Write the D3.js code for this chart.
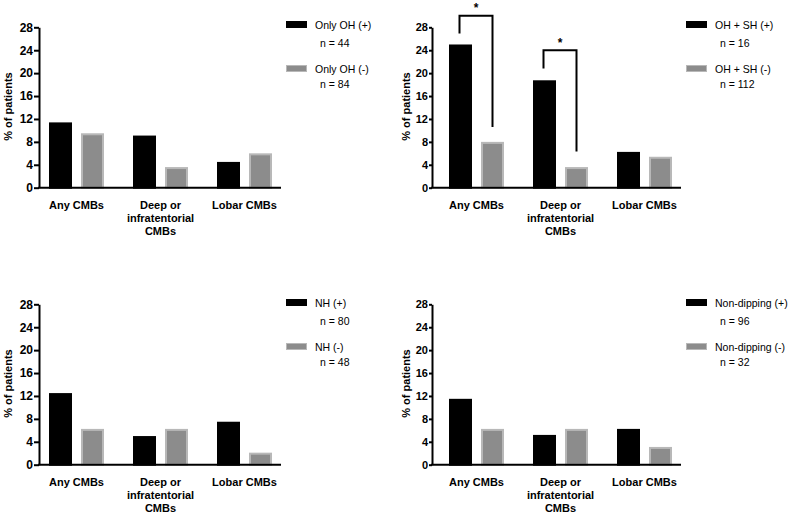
<!DOCTYPE html>
<html>
<head>
<meta charset="utf-8">
<script src="https://cdn.jsdelivr.net/npm/d3@7"></script>
<style>
  body { margin: 0; background: #fff; }
  svg text { font-family: "Liberation Sans", Arial, Helvetica, sans-serif; }
</style>
</head>
<body>
<div id="chart"></div>
<script>
// categories and tick labels
var categories = ["Any CMBs", "Deep or|infratentorial|CMBs", "Lobar CMBs"];
var series = ["pos", "neg"];
var yTicks = [0, 4, 8, 12, 16, 20, 24, 28];

// % of patients, (+) group and (-) group, per panel
var onlyOhPos = [11.4, 9.1, 4.5];
var onlyOhNeg = [9.5, 3.6, 6.0];
var ohShPos = [25.0, 18.75, 6.25];
var ohShNeg = [8.0, 3.6, 5.4];
var nhPos = [12.5, 5.0, 7.5];
var nhNeg = [6.25, 6.25, 2.1];
var ndPos = [11.5, 5.2, 6.25];
var ndNeg = [6.25, 6.25, 3.1];

// legend texts
var legendNames = [["Only OH (+)", "Only OH (-)"], ["OH + SH (+)", "OH + SH (-)"],
                   ["NH (+)", "NH (-)"], ["Non-dipping (+)", "Non-dipping (-)"]];
var legendN = [["n = 44", "n = 84"], ["n = 16", "n = 112"], ["n = 80", "n = 48"], ["n = 96", "n = 32"]];

// significance brackets (panel 2): category, top, left end, right end (in % units)
var brackets = [
  {cat: 0, top: 30.0, left: 26.9, right: 10.6},
  {cat: 1, top: 24.0, left: 20.8, right: 6.3}
];

var panels = [
  {pos: onlyOhPos, neg: onlyOhNeg, axisX: 39, axisEnd: 281, c0: 76.5, top: 27.3, zero: 187.7, legX: 286, legTop: 21, titleX: 8, tick: 5, tickFont: 12, br: []},
  {pos: ohShPos, neg: ohShNeg, axisX: 432, axisEnd: 681, c0: 476.5, top: 27.3, zero: 187.7, legX: 686, legTop: 21, titleX: 405.5, tick: 3, tickFont: 11, br: brackets},
  {pos: nhPos, neg: nhNeg, axisX: 39, axisEnd: 281, c0: 76.5, top: 304.3, zero: 464.7, legX: 286, legTop: 299, titleX: 8, tick: 5, tickFont: 12, br: []},
  {pos: ndPos, neg: ndNeg, axisX: 432, axisEnd: 681, c0: 476.5, top: 304.3, zero: 464.7, legX: 686, legTop: 299, titleX: 405.5, tick: 3, tickFont: 11, br: []}
];

var colors = {pos: "#000000", neg: "#8c8c8c"};
var strokes = {pos: "#000000", neg: "#b8b8b8"};

var svg = d3.select("#chart")
  .append("svg")
    .attr("width", 790)
    .attr("height", 513);

panels.forEach(function(p, pi) {
  var g = svg.append("g");

  var y = d3.scaleLinear()
    .domain([0, 28])
    .range([p.zero, p.top]);

  var x0 = d3.scalePoint()
    .domain(d3.range(categories.length))
    .range([p.c0, p.c0 + 168]);

  var x1 = d3.scaleBand()
    .domain(series)
    .range([-27.5, 27.5])
    .paddingInner(9 / 32);

  // bars
  var rows = [];
  categories.forEach(function(c, i) {
    series.forEach(function(s) {
      rows.push({cat: i, s: s, v: p[s][i]});
    });
  });

  g.append("g")
    .selectAll("rect")
    .data(rows)
    .enter()
    .append("rect")
      .attr("x", function(d) { return x0(d.cat) + x1(d.s) + 1; })
      .attr("y", function(d) { return y(d.v) + 1; })
      .attr("width", x1.bandwidth() - 2)
      .attr("height", function(d) { return Math.max(0, y(0) - y(d.v) - 1); })
      .style("fill", function(d) { return colors[d.s]; })
      .style("stroke", function(d) { return strokes[d.s]; })
      .style("stroke-width", 2);

  // y axis
  var yAxis = g.append("g")
    .attr("transform", "translate(" + p.axisX + ",0)")
    .call(d3.axisLeft(y).tickValues(yTicks).tickSize(p.tick).tickSizeOuter(0).tickPadding(1));
  yAxis.selectAll("path, line").style("stroke", "#000").style("stroke-width", 2);
  yAxis.selectAll("text")
    .style("font-size", p.tickFont + "px")
    .style("font-weight", "bold")
    .style("fill", "#000");

  // x axis line
  g.append("line")
    .attr("x1", p.axisX - 1)
    .attr("x2", p.axisEnd)
    .attr("y1", y(0))
    .attr("y2", y(0))
    .style("stroke", "#000")
    .style("stroke-width", 2);

  // category labels
  g.append("g")
    .selectAll("text")
    .data(categories)
    .enter()
    .append("text")
      .attr("text-anchor", "middle")
      .style("font-size", "11px")
      .style("font-weight", "bold")
      .each(function(c, i) {
        var t = d3.select(this);
        c.split("|").forEach(function(line, k) {
          t.append("tspan")
            .attr("x", x0(i))
            .attr("y", y(0) + 21 + k * 13)
            .text(line);
        });
      });

  // y title
  g.append("text")
    .attr("transform", "translate(" + (p.titleX + 4) + "," + ((p.zero + p.top) / 2 - 1) + ") rotate(-90)")
    .attr("text-anchor", "middle")
    .style("font-size", "11px")
    .style("font-weight", "bold")
    .text("% of patients");

  // legend
  var legOff = [{dy: 0, nDy: 25.5}, {dy: 44, nDy: 22.5}];
  series.forEach(function(s, k) {
    var ly = p.legTop + legOff[k].dy;
    g.append("rect")
      .attr("x", p.legX + 0.5)
      .attr("y", ly + 0.5)
      .attr("width", 20)
      .attr("height", 6)
      .style("fill", colors[s])
      .style("stroke", strokes[s])
      .style("stroke-width", 1);
    g.append("text")
      .attr("x", p.legX + 29)
      .attr("y", ly + 8)
      .style("font-size", "10.5px")
      .text(legendNames[pi][k]);
    g.append("text")
      .attr("x", p.legX + 34)
      .attr("y", ly + legOff[k].nDy)
      .style("font-size", "10.5px")
      .text(legendN[pi][k]);
  });

  // significance brackets
  p.br.forEach(function(b) {
    var xl = x0(b.cat) + x1("pos") + x1.bandwidth() / 2 - 1;
    var xr = x0(b.cat) + x1("neg") + x1.bandwidth() / 2;
    g.append("path")
      .attr("d", "M" + xl + "," + y(b.left) + "V" + y(b.top) + "H" + xr + "V" + y(b.right))
      .style("fill", "none")
      .style("stroke", "#000")
      .style("stroke-width", 2);
    g.append("text")
      .attr("x", (xl + xr) / 2)
      .attr("y", y(b.top) - 3.5)
      .attr("text-anchor", "middle")
      .style("font-size", "12px")
      .style("font-weight", "bold")
      .text("*");
  });
});
</script>
</body>
</html>
